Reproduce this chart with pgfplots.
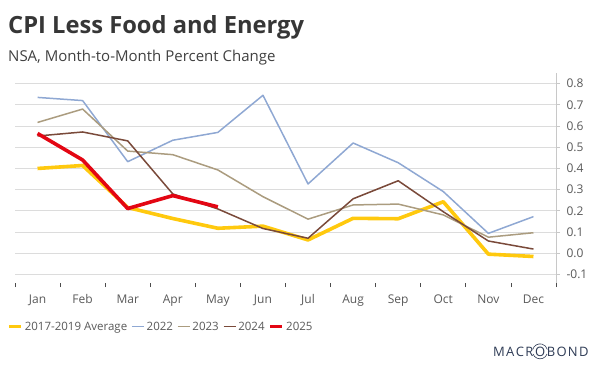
\documentclass[border=0pt]{standalone}
\usepackage{pgfplots}
\pgfplotsset{compat=1.18}
\usepackage{fontspec}
\setmainfont{Open Sans}
\definecolor{cavg}{HTML}{FFC90E}
\definecolor{c22}{HTML}{8FA8D3}
\definecolor{c23}{HTML}{AB9C7F}
\definecolor{c24}{HTML}{7A4A3A}
\definecolor{c25}{HTML}{E30613}
\definecolor{titlec}{HTML}{363636}
\definecolor{subc}{HTML}{404040}
\definecolor{tickc}{HTML}{595959}
\definecolor{gridc}{HTML}{DCDCDC}
\definecolor{axc}{HTML}{C8C8C8}
\definecolor{logoc}{HTML}{2E3B55}
\newcommand{\lk}{\kern1.3pt}
\begin{document}
\begin{tikzpicture}
\useasboundingbox (0pt,0pt) rectangle (596pt,368pt);
\node[anchor=base west, inner sep=0pt, text=titlec] at (8pt,334.7pt) {\fontsize{23.7}{27}\selectfont\bfseries CPI Less Food and Energy};
\node[anchor=base west, inner sep=0pt, text=subc] at (8pt,307pt) {\fontsize{15}{18}\selectfont NSA, Month-to-Month Percent Change};
\begin{scope}[every node/.style={inner sep=0pt, text=logoc, font=\fontsize{13}{15}\selectfont}]
\node[anchor=base west] (lg1) at (493pt,12pt) {M\lk A\lk C\lk R\lk};
\node[anchor=base west] (lgO) at (lg1.base east) {O};
\node[anchor=base west] at ([xshift=1.3pt]lgO.base east) {B\lk O\lk N\lk D};
\draw[logoc, line width=0.6pt] ([shift={(165:7.5pt)}]lgO.center) arc (165:15:7.5pt);
\draw[logoc, line width=0.6pt] ([shift={(200:7.5pt)}]lgO.center) arc (200:340:7.5pt);
\end{scope}
\begin{axis}[
  at={(15pt,85pt)}, anchor=south west,
  scale only axis, width=541pt, height=210pt,
  xmin=-0.5, xmax=11.5, ymin=-0.14, ymax=0.85,
  axis x line*=bottom, axis y line*=right,
  x axis line style={draw=none},
  y axis line style={draw=axc, line width=0.8pt},
  xtick={0,1,2,3,4,5,6,7,8,9,10,11},
  xticklabels={Jan,Feb,Mar,Apr,May,Jun,Jul,Aug,Sep,Oct,Nov,Dec},
  minor xtick={-0.5,0.5,1.5,2.5,3.5,4.5,5.5,6.5,7.5,8.5,9.5,10.5,11.5},
  major x tick style={draw=none},
  minor x tick style={draw=black!70, line width=0.8pt},
  ytick={-0.1,0,0.1,0.2,0.3,0.4,0.5,0.6,0.7,0.8},
  ytick style={draw=axc, line width=0.8pt},
  tick align=outside, major tick length=4pt, minor tick length=4pt,
  ymajorgrids, grid style={draw=gridc, line width=0.8pt},
  yticklabel pos=right,
  ticklabel style={text=tickc, font=\fontsize{12}{14}\selectfont},
  xticklabel style={yshift=-4pt},
  yticklabel style={xshift=3pt, /pgf/number format/.cd, fixed, fixed zerofill, precision=1, assume math mode=true},
  legend style={at={(-0.0148,-0.208)}, anchor=west, draw=none, fill=none, inner sep=0pt,
     font=\fontsize{11.5}{14}\selectfont, text=tickc,
     /tikz/every even column/.append style={column sep=2pt}},
  legend columns=-1,
  legend image code/.code={\draw[#1] (0pt,0pt) -- (12pt,0pt);},
  every axis plot/.append style={line join=round, mark=none},
]
\addplot[color=cavg, line width=3.6pt] coordinates {(0,0.40) (1,0.414) (2,0.216) (3,0.164) (4,0.118) (5,0.128) (6,0.063) (7,0.165) (8,0.163) (9,0.243) (10,-0.004) (11,-0.015)};
\addlegendentry{2017-2019 Average}
\addplot[color=c22, line width=1.5pt] coordinates {(0,0.735) (1,0.72) (2,0.432) (3,0.533) (4,0.57) (5,0.745) (6,0.327) (7,0.52) (8,0.427) (9,0.291) (10,0.094) (11,0.173)};
\addlegendentry{2022}
\addplot[color=c23, line width=1.5pt] coordinates {(0,0.617) (1,0.68) (2,0.482) (3,0.465) (4,0.393) (5,0.267) (6,0.161) (7,0.228) (8,0.232) (9,0.181) (10,0.076) (11,0.097)};
\addlegendentry{2023}
\addplot[color=c24, line width=1.5pt] coordinates {(0,0.553) (1,0.572) (2,0.53) (3,0.28) (4,0.209) (5,0.117) (6,0.071) (7,0.257) (8,0.342) (9,0.196) (10,0.058) (11,0.02)};
\addlegendentry{2024}
\addplot[color=c25, line width=3.6pt] coordinates {(0,0.565) (1,0.44) (2,0.211) (3,0.272) (4,0.219)};
\addlegendentry{2025}
\end{axis}
\end{tikzpicture}
\end{document}
